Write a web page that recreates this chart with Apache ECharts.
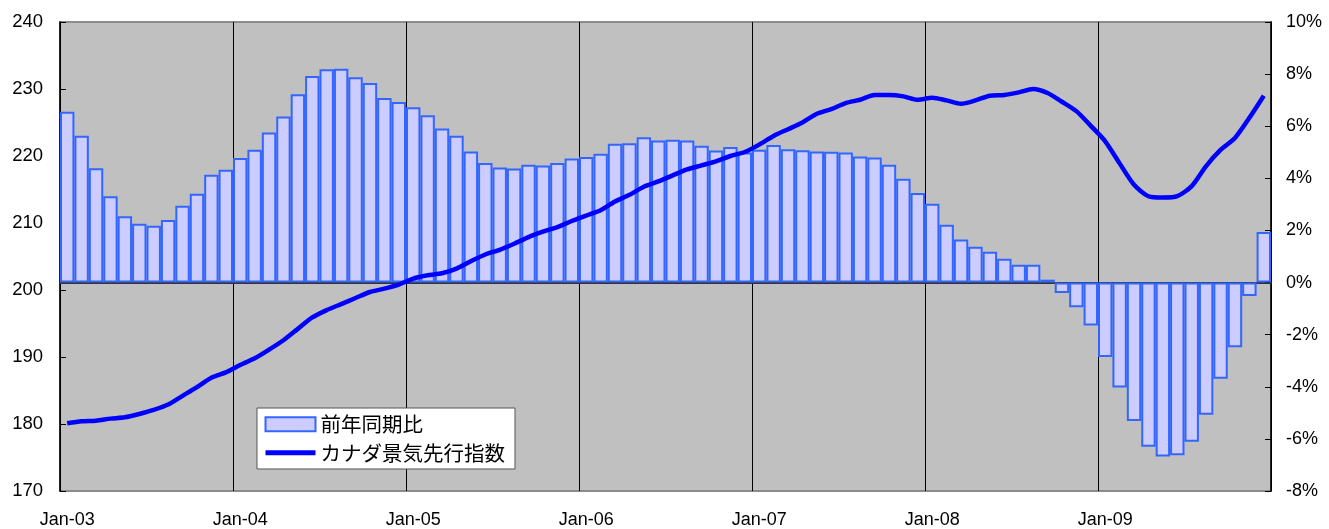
<!DOCTYPE html>
<html>
<head>
    <meta charset="utf-8">
    <title>カナダ景気先行指数</title>
    <script src="https://cdn.jsdelivr.net/npm/echarts@6/dist/echarts.min.js"></script>
    <style>
        html, body { margin: 0; padding: 0; background: #fff; }
    </style>
</head>
<body>
<div id="main" style="width: 1329px;height:529px;"></div>
<script type="text/javascript">
    // 月ラベル (2003年1月〜2009年12月)
    var monthNames = ['Jan', 'Feb', 'Mar', 'Apr', 'May', 'Jun', 'Jul', 'Aug', 'Sep', 'Oct', 'Nov', 'Dec'];
    var years = ['03', '04', '05', '06', '07', '08', '09'];
    var months = [];
    years.forEach(function (y) {
        monthNames.forEach(function (m) { months.push(m + '-' + y); });
    });

    // 前年同期比 (%) 右軸
    var yoyPct = [
        6.56, 5.63, 4.39, 3.31, 2.54, 2.26, 2.18, 2.40, 2.95, 3.41, 4.14, 4.33,
        4.78, 5.10, 5.76, 6.37, 7.23, 7.93, 8.19, 8.21, 7.88, 7.66, 7.08, 6.93,
        6.73, 6.42, 5.91, 5.63, 5.03, 4.59, 4.42, 4.38, 4.52, 4.49, 4.59, 4.76,
        4.82, 4.94, 5.33, 5.35, 5.58, 5.45, 5.48, 5.45, 5.25, 5.07, 5.20, 4.99,
        5.10, 5.28, 5.12, 5.08, 5.03, 5.02, 4.99, 4.84, 4.80, 4.52, 3.98, 3.44,
        3.02, 2.22, 1.65, 1.37, 1.18, 0.91, 0.68, 0.68, 0.11, -0.40, -0.95, -1.65,
        -2.86, -4.03, -5.31, -6.30, -6.68, -6.63, -6.11, -5.07, -3.69, -2.48, -0.52, 1.94
    ];

    // カナダ景気先行指数 左軸
    var leadingIndex = [
        180.1, 180.4, 180.5, 180.8, 181.0, 181.5, 182.1, 182.9, 184.2, 185.5, 186.9, 187.7,
        188.8, 189.8, 191.1, 192.5, 194.2, 195.9, 197.0, 197.9, 198.8, 199.7, 200.2, 200.8,
        201.7, 202.2, 202.5, 203.2, 204.3, 205.3, 206.0, 206.9, 207.9, 208.7, 209.4, 210.3,
        211.1, 211.9, 213.2, 214.2, 215.4, 216.2, 217.1, 218.0, 218.6, 219.2, 220.0, 220.6,
        221.7, 223.0, 224.0, 225.0, 226.3, 227.0, 227.9, 228.4, 229.1, 229.1, 228.9, 228.4,
        228.7, 228.3, 227.8, 228.3, 229.0, 229.1, 229.5, 230.0, 229.4, 228.1, 226.7, 224.5,
        222.2, 218.9, 215.7, 214.0, 213.8, 214.0, 215.5, 218.5, 220.9, 222.7, 225.7, 229.0
    ];

    var seriesNames = ['前年同期比', 'カナダ景気先行指数'];

    var numFont = '"Liberation Sans", Arial, sans-serif';
    var cjkFont = '"Noto Sans CJK JP", sans-serif';

    var myChart = echarts.init(document.getElementById('main'));

    var option = {
        animation: false,
        grid: {
            left: 60, right: 58, top: 22, bottom: 37,
            show: true,
            backgroundColor: '#C0C0C0',
            borderColor: '#8c8c8c',
            borderWidth: 2
        },
        legend: {
            data: [
                { name: seriesNames[0], icon: 'rect' },
                {
                    name: seriesNames[1],
                    itemStyle: { color: 'rgba(0,0,0,0)', borderWidth: 0 },
                    lineStyle: { color: '#0000FF', width: 5 }
                }
            ],
            orient: 'vertical',
            left: 257,
            top: 408,
            backgroundColor: '#fff',
            borderColor: '#555',
            borderWidth: 1,
            borderRadius: 0,
            padding: [6, 10, 6, 6],
            itemGap: 8,
            itemWidth: 50,
            itemHeight: 14,
            textStyle: { fontFamily: cjkFont, fontSize: 20.5, color: '#000' }
        },
        xAxis: {
            type: 'category',
            data: months,
            boundaryGap: true,
            axisLine: { show: true, lineStyle: { color: '#333', width: 2 } },
            axisTick: { show: false },
            axisLabel: {
                interval: 11,
                margin: 20,
                color: '#000',
                fontFamily: numFont,
                fontSize: 18
            },
            splitLine: { show: true, interval: 11, lineStyle: { color: '#000', width: 1 } }
        },
        yAxis: [
            {
                type: 'value',
                min: 170, max: 240, interval: 10,
                position: 'left',
                axisLine: { show: true, lineStyle: { color: '#000', width: 1.5 } },
                axisTick: { show: true, inside: true, length: 6, lineStyle: { color: '#000' } },
                axisLabel: { margin: 17, color: '#000', fontFamily: numFont, fontSize: 18.5 },
                splitLine: { show: false }
            },
            {
                type: 'value',
                min: -8, max: 10, interval: 2,
                position: 'right',
                axisLine: { show: true, lineStyle: { color: '#000', width: 1.5 } },
                axisTick: { show: true, inside: true, length: 6, lineStyle: { color: '#000' } },
                axisLabel: { margin: 15, color: '#000', fontFamily: numFont, fontSize: 18, formatter: '{value}%' },
                splitLine: { show: false }
            }
        ],
        series: [
            {
                name: seriesNames[0],
                type: 'bar',
                yAxisIndex: 1,
                barCategoryGap: '0%',
                itemStyle: { color: '#CCCCFF', borderColor: '#3366FF', borderWidth: 2 },
                data: yoyPct
            },
            {
                name: seriesNames[1],
                type: 'line',
                yAxisIndex: 0,
                symbol: 'none',
                smooth: 0.25,
                lineStyle: { color: '#0000FF', width: 4.5 },
                itemStyle: { color: '#0000FF' },
                data: leadingIndex
            }
        ]
    };

    myChart.setOption(option);
</script>
</body>
</html>
